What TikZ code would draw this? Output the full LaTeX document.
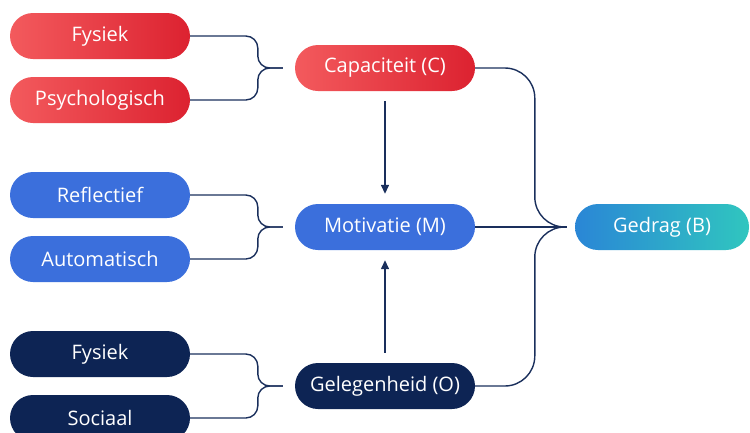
\documentclass[tikz,border=0pt]{standalone}
\usepackage{fontspec}
\setmainfont{Open Sans}
\usetikzlibrary{arrows.meta, positioning}

\definecolor{linecol}{HTML}{1A2F5C}
\definecolor{navycol}{HTML}{0D2454}
\definecolor{bluecol}{HTML}{3B6FDC}
\definecolor{redleft}{HTML}{F35A5D}
\definecolor{redright}{HTML}{DC2230}
\definecolor{tealleft}{HTML}{2A86D6}
\definecolor{tealright}{HTML}{30C6BF}

\begin{document}
\begin{tikzpicture} [x=1pt, y=-1pt, node distance = 159pt, on grid,
	box/.style = {rounded corners=23pt, minimum width=180pt, minimum height=46pt,
		text=white, font=\fontsize{20}{24}\selectfont},
	redbox/.style = {left color=redleft, right color=redright},
	bluebox/.style = {fill=bluecol},
	navybox/.style = {fill=navycol},
	tealbox/.style = {left color=tealleft, right color=tealright},
	link/.style = {draw=linecol, line width=1.4pt},
	arrow/.style = {link, -{Triangle[width=8pt,length=9pt]}, shorten <=10pt, shorten >=10pt}]

\useasboundingbox (0,0) rectangle (750,432);

\node (mot) [box, bluebox] at (385,227) {Motivatie (M)};
\node (cap) [box, redbox, above = of mot] {Capaciteit (C)};
\node (gel) [box, navybox, below = of mot] {Gelegenheid (O)};
\node (ged) [box, tealbox, minimum width=174pt, right = 277pt of mot] {Gedrag (B)};

\node (fys) [box, redbox, above left = 32pt and 285pt of cap] {Fysiek};
\node (psy) [box, redbox, below left = 32pt and 285pt of cap] {Psychologisch};
\node (ref) [box, bluebox, above left = 32pt and 285pt of mot] {Reflectief};
\node (aut) [box, bluebox, below left = 32pt and 285pt of mot] {Automatisch};
\node (fyo) [box, navybox, above left = 32pt and 285pt of gel] {Fysiek};
\node (soc) [box, navybox, below left = 32pt and 285pt of gel] {Sociaal};

% brackets on the left
\draw [link, rounded corners=12pt, shorten >=12pt] (fys.east) -| ([xshift=-37pt]cap.west) -- (cap.west);
\draw [link, rounded corners=12pt, shorten >=12pt] (psy.east) -| ([xshift=-37pt]cap.west) -- (cap.west);
\draw [link, rounded corners=12pt, shorten >=12pt] (ref.east) -| ([xshift=-37pt]mot.west) -- (mot.west);
\draw [link, rounded corners=12pt, shorten >=12pt] (aut.east) -| ([xshift=-37pt]mot.west) -- (mot.west);
\draw [link, rounded corners=12pt, shorten >=12pt] (fyo.east) -| ([xshift=-37pt]gel.west) -- (gel.west);
\draw [link, rounded corners=12pt, shorten >=12pt] (soc.east) -| ([xshift=-37pt]gel.west) -- (gel.west);

% into Gedrag
\draw [link, rounded corners=30pt, shorten >=8pt] (cap.east) -| ([xshift=-40pt]ged.west) -- (ged.west);
\draw [link, rounded corners=30pt, shorten >=8pt] (gel.east) -| ([xshift=-40pt]ged.west) -- (ged.west);
\draw [link, shorten >=8pt] (mot.east) -- (ged.west);

\draw [arrow] (cap) -- (mot);
\draw [arrow] (gel) -- (mot);
\end{tikzpicture}
\end{document}
